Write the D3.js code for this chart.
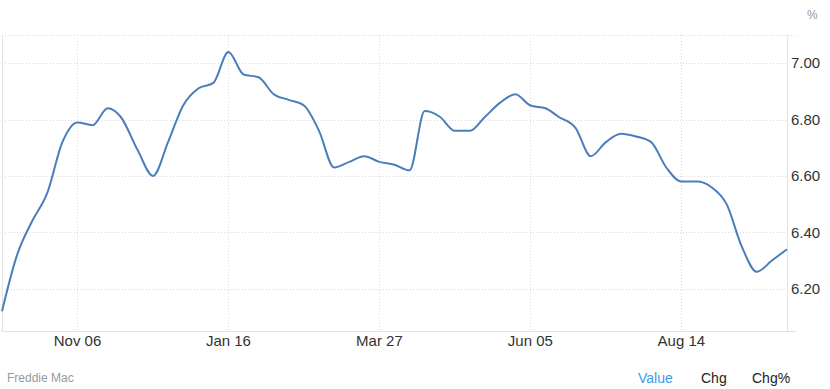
<!DOCTYPE html>
<html>
<head>
<meta charset="utf-8">
<script src="https://cdn.jsdelivr.net/npm/d3@7"></script>
<style>
  body { margin: 0; background: #fff; }
  svg { font-family: "Liberation Sans", Arial, sans-serif; }
</style>
</head>
<body>
<div id="chart"></div>
<script>
// Weekly 30-year mortgage rate (Freddie Mac)
const dates = [
  "2024-10-03", "2024-10-10", "2024-10-17", "2024-10-24", "2024-10-31",
  "2024-11-07", "2024-11-14", "2024-11-21", "2024-11-27", "2024-12-05",
  "2024-12-12", "2024-12-19", "2024-12-26", "2025-01-02", "2025-01-09",
  "2025-01-16", "2025-01-23", "2025-01-30", "2025-02-06", "2025-02-13",
  "2025-02-20", "2025-02-27", "2025-03-06", "2025-03-13", "2025-03-20",
  "2025-03-27", "2025-04-03", "2025-04-10", "2025-04-17", "2025-04-24",
  "2025-05-01", "2025-05-08", "2025-05-15", "2025-05-22", "2025-05-29",
  "2025-06-05", "2025-06-12", "2025-06-18", "2025-06-26", "2025-07-03",
  "2025-07-10", "2025-07-17", "2025-07-24", "2025-07-31", "2025-08-07",
  "2025-08-14", "2025-08-21", "2025-08-28", "2025-09-04", "2025-09-11",
  "2025-09-18", "2025-09-25", "2025-10-02"
];
const rates = [
  6.12, 6.32, 6.44, 6.54, 6.72,
  6.79, 6.78, 6.84, 6.81, 6.69,
  6.60, 6.72, 6.85, 6.91, 6.93,
  7.04, 6.96, 6.95, 6.89, 6.87,
  6.85, 6.76, 6.63, 6.65, 6.67,
  6.65, 6.64, 6.62, 6.83, 6.81,
  6.76, 6.76, 6.81, 6.86, 6.89,
  6.85, 6.84, 6.81, 6.77, 6.67,
  6.72, 6.75, 6.74, 6.72, 6.63,
  6.58, 6.58, 6.56, 6.50, 6.35,
  6.26, 6.30, 6.34
];
const xTicks = ["2024-11-07", "2025-01-16", "2025-03-27", "2025-06-05", "2025-08-14"];
const xTickLabels = ["Nov 06", "Jan 16", "Mar 27", "Jun 05", "Aug 14"];
const yTicks = [6.20, 6.40, 6.60, 6.80, 7.00];
const tabs = ["Value", "Chg", "Chg%"];

const parse = d3.timeParse("%Y-%m-%d");
const data = dates.map((d, i) => ({ date: parse(d), value: rates[i] }));

const W = 830, H = 389;
const margin = { top: 35, right: 43, bottom: 58, left: 2 };
const width = W - margin.left - margin.right;
const height = H - margin.top - margin.bottom;

const svg = d3.select("#chart")
  .append("svg")
  .attr("width", W)
  .attr("height", H);

const g = svg.append("g")
  .attr("transform", `translate(${margin.left},${margin.top})`);

const x = d3.scaleTime()
  .domain(d3.extent(data, d => d.date))
  .range([0, width]);

const y = d3.scaleLinear()
  .domain([6.05, 7.10])
  .range([height, 0]);

// Grid
g.selectAll(".hgrid")
  .data(yTicks.concat([7.10]))
  .enter()
  .append("line")
  .attr("x1", 0)
  .attr("x2", d => d === 7.10 ? width + 9 : width)
  .attr("y1", d => Math.round(y(d)) + 0.5)
  .attr("y2", d => Math.round(y(d)) + 0.5)
  .attr("stroke", "#d8d8d8")
  .attr("stroke-dasharray", "1,2");

g.selectAll(".vgrid")
  .data(xTicks)
  .enter()
  .append("line")
  .attr("x1", d => Math.round(x(parse(d))) + 0.5)
  .attr("x2", d => Math.round(x(parse(d))) + 0.5)
  .attr("y1", 0)
  .attr("y2", height)
  .attr("stroke", "#d8d8d8")
  .attr("stroke-dasharray", "1,2");

// Frame
g.append("line")
  .attr("x1", 0.5).attr("x2", 0.5)
  .attr("y1", 0).attr("y2", height)
  .attr("stroke", "#e3e3e3");
g.append("line")
  .attr("x1", width + 0.5).attr("x2", width + 0.5)
  .attr("y1", 0).attr("y2", height)
  .attr("stroke", "#e3e3e3");
g.append("line")
  .attr("x1", 0).attr("x2", width + 9)
  .attr("y1", height + 0.5).attr("y2", height + 0.5)
  .attr("stroke", "#e3e3e3");

// Line
const line = d3.line()
  .x(d => x(d.date))
  .y(d => y(d.value))
  .curve(d3.curveMonotoneX);

g.append("path")
  .datum(data)
  .attr("fill", "none")
  .attr("stroke", "#4a7ebb")
  .attr("stroke-width", 2)
  .attr("stroke-linejoin", "round")
  .attr("d", line);

// X axis labels
g.selectAll(".xlabel")
  .data(xTicks)
  .enter()
  .append("text")
  .attr("x", d => x(parse(d)))
  .attr("y", height + 15)
  .attr("text-anchor", "middle")
  .attr("font-size", "15px")
  .attr("fill", "#333")
  .text((d, i) => xTickLabels[i]);

// Y axis labels
g.selectAll(".ylabel")
  .data(yTicks)
  .enter()
  .append("text")
  .attr("x", width + 4)
  .attr("y", d => y(d))
  .attr("dy", "0.35em")
  .attr("font-size", "15px")
  .attr("fill", "#333")
  .text(d => d.toFixed(2));

svg.append("text")
  .attr("x", 807)
  .attr("y", 19)
  .attr("font-size", "12px")
  .attr("fill", "#999")
  .text("%");

// Source
svg.append("text")
  .attr("x", 7)
  .attr("y", 382)
  .attr("font-size", "12px")
  .attr("fill", "#999")
  .text("Freddie Mac");

// Tabs
const tabX = [638, 701, 752];
svg.selectAll(".tab")
  .data(tabs)
  .enter()
  .append("text")
  .attr("x", (d, i) => tabX[i])
  .attr("y", 383)
  .attr("font-size", "14px")
  .attr("fill", (d, i) => i === 0 ? "#3d9bf0" : "#222")
  .text(d => d);
</script>
</body>
</html>
